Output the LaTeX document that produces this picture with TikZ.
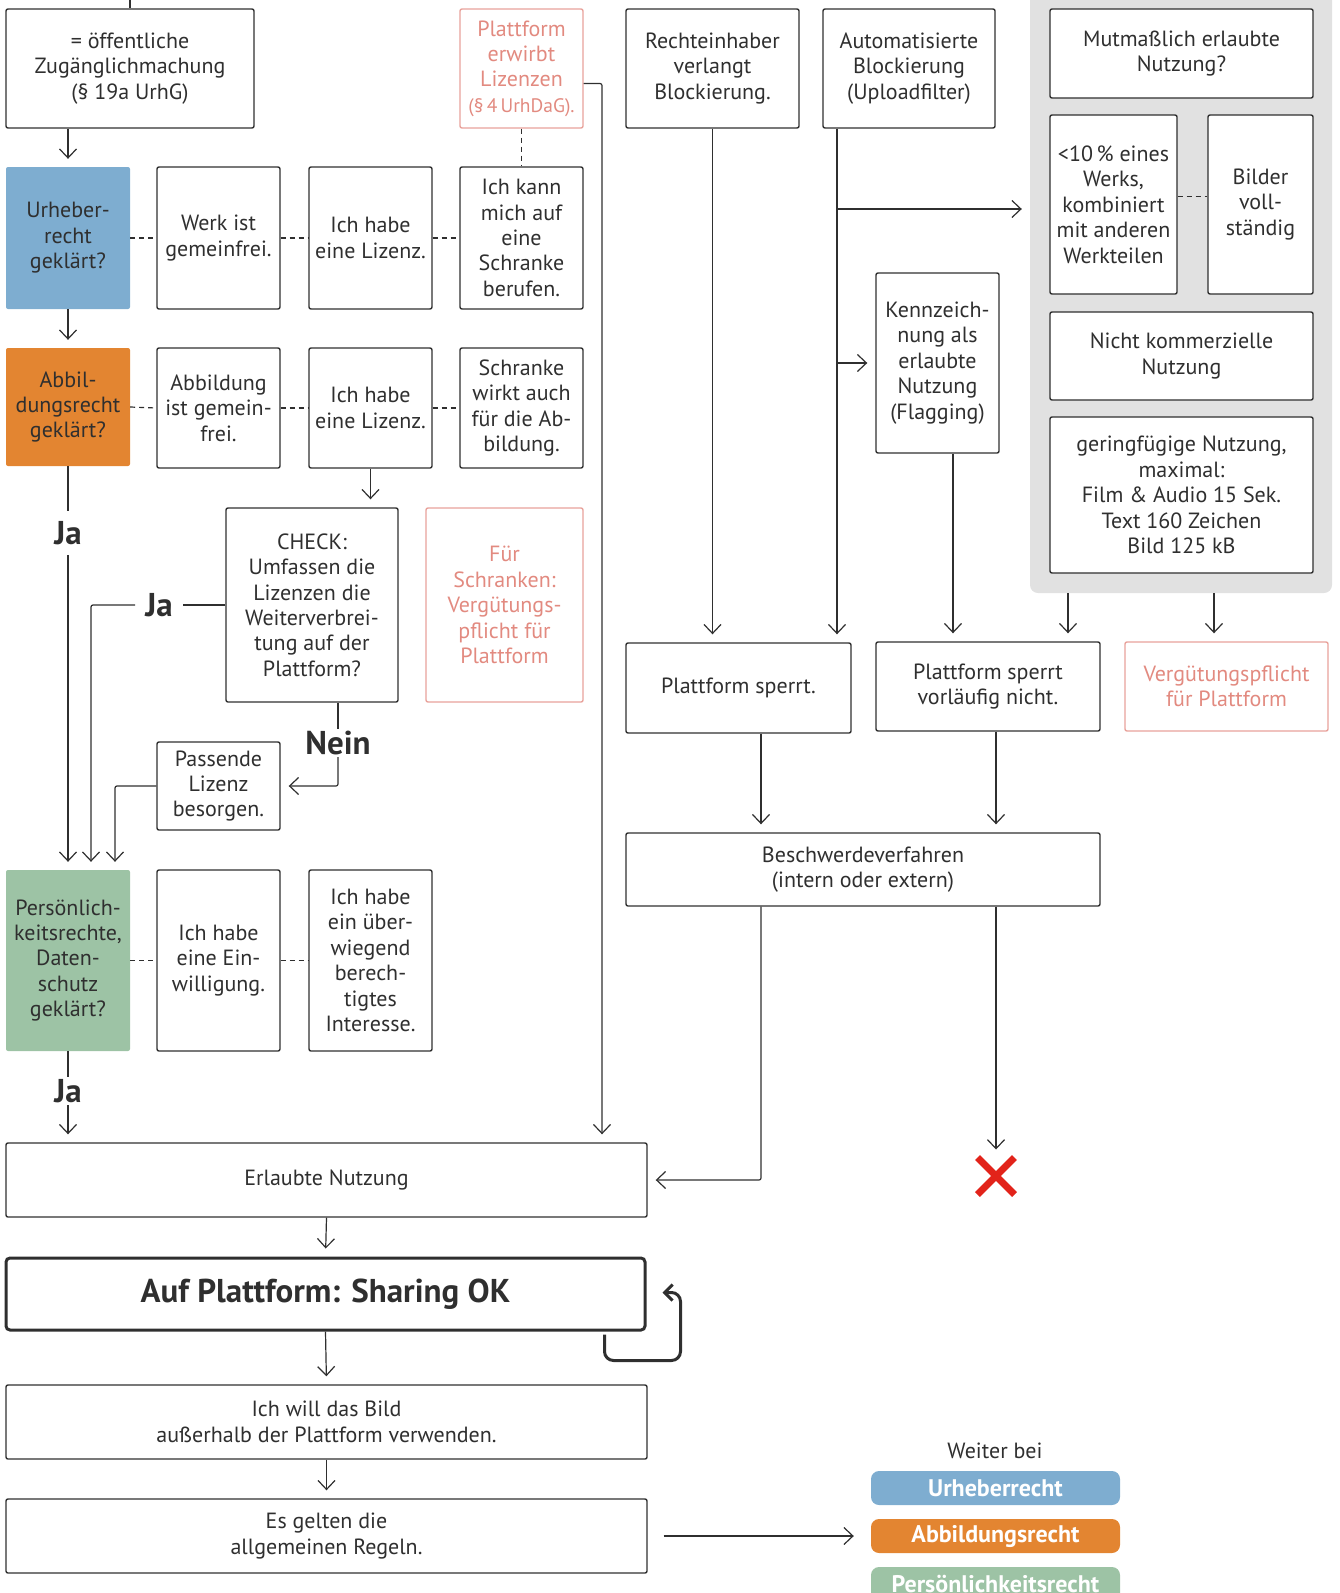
\documentclass[tikz,border=0pt]{standalone}
\usepackage{fontspec}
\setmainfont{PT Sans}
\usetikzlibrary{arrows.meta,shapes.misc}

\definecolor{ink}{HTML}{2F2F2F}
\definecolor{urhblue}{HTML}{7EADD0}
\definecolor{abborange}{HTML}{E38531}
\definecolor{persgreen}{HTML}{9DC3A5}
\definecolor{platpink}{HTML}{E8A29B}
\definecolor{pinktext}{HTML}{E28A80}
\definecolor{filtergray}{HTML}{E1E1E1}
\definecolor{stopred}{HTML}{E2231A}

\newcommand\boxfont{\fontsize{22}{25.4}\selectfont}
\newcommand\ansfont{\fontsize{33}{34}\selectfont\bfseries}
\newcommand\headfont{\fontsize{33}{34}\selectfont\bfseries}
\newcommand\pillfont{\fontsize{24}{26}\selectfont\bfseries}
\def\panel[#1](#2)(#3,#4)(#5,#6)#7{\node[#1, minimum width={(#5-#3)*1pt}, minimum height={(#6-#4)*1pt}] (#2) at ({(#3+#5)/2},{(#4+#6)/2+1}) {#7};}

\tikzset{
	box/.style={draw=ink, line width=1.4pt, rounded corners=2pt, inner sep=1pt, align=center, text=ink, font=\boxfont},
	colbox/.style={fill=#1, rounded corners=2pt, inner sep=1pt, align=center, text=ink, font=\boxfont},
	pinkbox/.style={draw=platpink, line width=1.4pt, rounded corners=2pt, inner sep=1pt, align=center, text=pinktext, font=\boxfont},
	wire/.style={draw=ink, line width=1.2pt, rounded corners=2pt},
	arr/.style={wire, -{Straight Barb[length=9pt,width=17pt]}, shorten >=8pt},
	dashlink/.style={draw=ink, line width=1.2pt, dash pattern=on 5pt off 4pt},
	answer/.style={font=\ansfont, text=ink, inner sep=2pt},
	pill/.style={fill=#1, rounded corners=8pt, text=white, font=\pillfont, inner sep=0pt},
}

\begin{document}
\begin{tikzpicture}[x=1pt, y=-1pt]
		%%%%% START %%%%%
		\useasboundingbox (0,0) rectangle (1339,1593);
		
		% left column
		\panel[box](pub)(6,8)(254,127){= öffentliche\\Zugänglichmachung\\(§ 19a UrhG)}
		\panel[pinkbox](plz)(460,8)(583,127){Plattform\\erwirbt\\Lizenzen\\{\fontsize{19.5}{25.4}\selectfont(§\,4\,UrhDaG).}}
		
		\panel[colbox=urhblue](urh)(6,166)(130,308){Urheber-\\recht\\geklärt?}
		\panel[box](werk)(157,166)(280,308){Werk ist\\gemeinfrei.}
		\panel[box](liza)(309,166)(432,308){Ich habe\\eine Lizenz.}
		\panel[box](kann)(460,166)(583,308){Ich kann\\mich auf\\eine\\Schranke\\berufen.}
		
		\panel[colbox=abborange](abb)(6,347)(130,465){Abbil-\\dungsrecht\\geklärt?}
		\panel[box](abg)(157,347)(280,467){Abbildung\\ist gemein-\\frei.}
		\panel[box](lizb)(309,347)(432,467){Ich habe\\eine Lizenz.}
		\panel[box](schr)(460,347)(583,467){Schranke\\wirkt auch\\für die Ab-\\bildung.}
		
		\panel[box](chk)(226,507)(398,701){CHECK:\\Umfassen die\\Lizenzen die\\Weiterverbrei-\\tung auf der\\Plattform?}
		\panel[pinkbox](fsch)(426,507)(583,701){Für\\Schranken:\\Vergütungs-\\pflicht für\\Plattform}
		\panel[box](pas)(157,741)(280,829){Passende\\Lizenz\\besorgen.}
		
		\panel[colbox=persgreen](pers)(6,869)(130,1050){Persönlich-\\keitsrechte,\\Daten-\\schutz\\geklärt?}
		\panel[box](einw)(157,869)(280,1050){Ich habe\\eine Ein-\\willigung.}
		\panel[box](intr)(309,869)(432,1050){Ich habe\\ein über-\\wiegend\\berech-\\tigtes\\Interesse.}
		
		\panel[box](erl)(6,1142)(647,1216){Erlaubte Nutzung}
		\panel[box, line width=3pt, rounded corners=4pt, font=\headfont](shp)(6,1257)(645,1329){Auf Plattform: Sharing OK}
		\panel[box](ausw)(6,1384)(647,1458){Ich will das Bild\\außerhalb der Plattform verwenden.}
		\panel[box](esg)(6,1498)(647,1572){Es gelten die\\allgemeinen Regeln.}
		
		% right column
		\panel[box](reh)(626,8)(799,127){Rechteinhaber\\verlangt\\Blockierung.}
		\panel[box](auto)(823,8)(995,127){Automatisierte\\Blockierung\\(Uploadfilter)}
		
		\panel[fill=filtergray, rounded corners=8pt](filt)(1030,-20)(1332,592){}
		\panel[box, fill=white](mut)(1050,8)(1313,97){Mutmaßlich erlaubte\\Nutzung?}
		\panel[box, fill=white](ten)(1050,114)(1177,293){<10\,\% eines\\Werks,\\kombiniert\\mit anderen\\Werkteilen}
		\panel[box, fill=white](bild)(1208,114)(1313,293){Bilder\\voll-\\ständig}
		\panel[box, fill=white](nko)(1050,311)(1313,399){Nicht kommerzielle\\Nutzung}
		\panel[box, fill=white](ger)(1050,416)(1313,572){geringfügige Nutzung,\\maximal:\\Film \& Audio 15 Sek.\\Text 160 Zeichen\\Bild 125 kB}
		
		\panel[box](ken)(876,272)(999,452){Kennzeich-\\nung als\\erlaubte\\Nutzung\\(Flagging)}
		\panel[box](spa)(626,642)(851,732){Plattform sperrt.}
		\panel[box](spb)(876,641)(1100,730){Plattform sperrt\\vorläufig nicht.}
		\panel[pinkbox](verg)(1125,641)(1328,730){Vergütungspflicht\\für Plattform}
		\panel[box](bes)(626,832)(1100,905){Beschwerdeverfahren\\(intern oder extern)}
		\node[cross out, draw=stopred, line width=7pt, minimum size=30pt, inner sep=0pt] (stop) at (996,1176) {};
		
		% legend
		\node[text=ink, font=\boxfont] (wb) at (995,1451) {Weiter bei};
		\panel[pill=urhblue](pur)(871,1470)(1120,1504){Urheberrecht}
		\panel[pill=abborange](pab)(871,1518)(1120,1552){Abbildungsrecht}
		\panel[pill=persgreen](ppe)(871,1566)(1120,1600){Persönlichkeitsrecht}
		
		% answers
		\node[answer, inner ysep=10pt] (jaa) at (68,533) {Ja};
		\node[answer, inner xsep=10pt] (jab) at (159,605) {Ja};
		\node[answer] (nein) at (338,743) {Nein};
		\node[answer] (jac) at (68,1091) {Ja};
		
		% dashed links
		\draw[dashlink] (urh.east) -- (werk.west);
		\draw[dashlink] (werk.east) -- (liza.west);
		\draw[dashlink] (liza.east) -- (kann.west);
		\draw[dashlink] (plz.south) -- (kann.north);
		\draw[dashlink] (abb.east) -- (abg.west);
		\draw[dashlink] (abg.east) -- (lizb.west);
		\draw[dashlink] (lizb.east) -- (schr.west);
		\draw[dashlink] (pers.east) -- (einw.west);
		\draw[dashlink] (einw.east) -- (intr.west);
		\draw[dashlink] ([yshift=8pt]ten.east) -- ([yshift=8pt]bild.west);
		
		% left flow
		\coordinate (intop) at (130,-10);
		\coordinate (jx) at (91,0);
		\coordinate (px) at (115,0);
		\coordinate (rail) at (602,0);
		\draw[wire] (intop) -- (pub.north);
		\draw[arr] (pub.south -| urh.north) -- (urh.north);
		\draw[arr] (urh.south) -- (abb.north);
		\draw[wire] (abb.south) -- (jaa.north);
		\draw[arr] (jaa.south) -- (pers.north);
		\draw[arr] (lizb.south) -- (lizb.south |- chk.north);
		\draw[wire] (chk.west) -- (jab.east);
		\draw[arr] (jab.west) -| (jx |- pers.north);
		\draw[wire] (nein.north |- chk.south) -- (nein.north);
		\draw[arr] (nein.south) |- (pas.east);
		\draw[arr] (pas.west) -| (px |- pers.north);
		\draw[wire] (pers.south) -- (jac.north);
		\draw[arr] (jac.south) -- (jac.south |- erl.north);
		\draw[arr] ([yshift=-15pt]plz.east) -| (rail |- erl.north);
		\draw[arr] (erl.south) -- (shp.north);
		\draw[line width=3pt, draw=ink, rounded corners=9pt, -{Straight Barb[length=8pt,width=16pt]}] ([xshift=-42pt,yshift=-3pt]shp.south east) -- ++(0,26) -- ++(76,0) -- ++(0,-68) -- ++(-18,0);
		\draw[arr] (shp.south) -- (ausw.north);
		\draw[arr] (ausw.south) -- (esg.north);
		\draw[arr, shorten >=17pt] ([xshift=16pt]esg.east) -- (pab.west);
		
		% right flow
		\coordinate (ax) at (837,0);
		\coordinate (fork) at (837,209);
		\coordinate (kx) at (953,0);
		\coordinate (ga) at (1068,0);
		\coordinate (gb) at (1214,0);
		\coordinate (bxa) at (761,0);
		\coordinate (bxb) at (996,0);
		\draw[arr] (reh.south) -- (reh.south |- spa.north);
		\draw[arr] (ax |- auto.south) -- (ax |- spa.north);
		\draw[arr] (fork) -- (fork -| filt.west);
		\draw[arr] (ax |- ken.west) -- (ken.west);
		\draw[arr] (kx |- ken.south) -- (kx |- spb.north);
		\draw[arr] (ga |- filt.south) -- (ga |- spb.north);
		\draw[arr] (gb |- filt.south) -- (gb |- verg.north);
		\draw[arr] (spa.south -| bxa) -- (bxa |- bes.north);
		\draw[arr] (spb.south -| bxb) -- (bxb |- bes.north);
		\draw[arr] (bxa |- bes.south) |- (erl.east);
		\draw[arr] (bxb |- bes.south) -- (stop.north);
		
		%%%%% END %%%%%
\end{tikzpicture}
\end{document}
